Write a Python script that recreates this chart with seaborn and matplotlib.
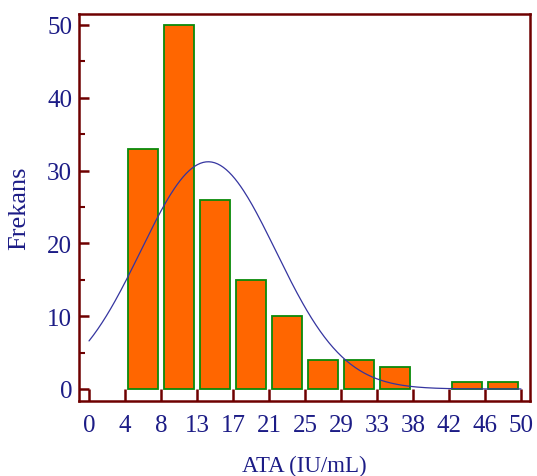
import numpy as np
import pandas as pd
import matplotlib
matplotlib.use("Agg")
import matplotlib.pyplot as plt
import seaborn as sns

# ---- data ----
bin_edges = [i * 50 / 12 for i in range(13)]
counts = [0, 33, 50, 26, 15, 10, 4, 4, 3, 0, 1, 1]
xtick_labels = ["0", "4", "8", "13", "17", "21", "25", "29", "33", "38", "42", "46", "50"]
ytick_values = [0, 10, 20, 30, 40, 50]
fit_mean = 13.8
fit_sd = 7.83

sns.set_theme(style="white")
plt.rcParams['font.family'] = ['Liberation Serif', 'DejaVu Serif']

navy = "#1c1c86"
maroon = "#6e0000"

centers = [(bin_edges[i] + bin_edges[i + 1]) / 2 for i in range(len(counts))]
df = pd.DataFrame({"x": centers, "n": counts})
df = df[df["n"] > 0]

fig = plt.figure(figsize=(5.37, 4.77), dpi=100)
ax = fig.add_axes([79 / 537, 1 - 402 / 477, (530 - 79) / 537, (402 - 15) / 477])

sns.histplot(data=df, x="x", weights="n", bins=bin_edges, shrink=0.82,
             color="#ff6600", edgecolor="#0a8a0a", linewidth=1.3, alpha=1, ax=ax)
# hide empty bins
for p in ax.patches:
    if p.get_height() == 0:
        p.set_visible(False)

# fitted normal curve scaled to counts
total = sum(counts)
w = bin_edges[1] - bin_edges[0]
xs = np.linspace(0, 50, 300)
ys = total * w / (fit_sd * np.sqrt(2 * np.pi)) * np.exp(-(xs - fit_mean) ** 2 / (2 * fit_sd ** 2))
sns.lineplot(x=xs, y=ys, color="#3535a0", linewidth=0.9, ax=ax)

ax.set_xlim(-1.16, 51.04)
ax.set_ylim(-1.65, 51.5)
ax.set_xticks(bin_edges)
ax.set_xticklabels(xtick_labels)
ax.set_yticks(ytick_values)
ax.set_yticks([5, 15, 25, 35, 45], minor=True)

for s in ax.spines.values():
    s.set_color(maroon)
    s.set_linewidth(1.8)

ax.tick_params(axis="both", which="major", direction="in", length=7.5, width=1.8,
               color=maroon, labelcolor=navy, labelsize=18, left=True, bottom=True)
ax.tick_params(axis="x", which="major", length=8.5, pad=9)
ax.tick_params(axis="y", which="major", pad=5)
ax.tick_params(axis="y", which="minor", direction="in", length=4, width=1.5,
               color=maroon, left=True)

ax.set_xlabel("ATA (IU/mL)", color=navy, fontsize=16.5, labelpad=14)
ax.set_ylabel("Frekans", color=navy, fontsize=19, labelpad=12)

fig.savefig("out.png", dpi=100)
